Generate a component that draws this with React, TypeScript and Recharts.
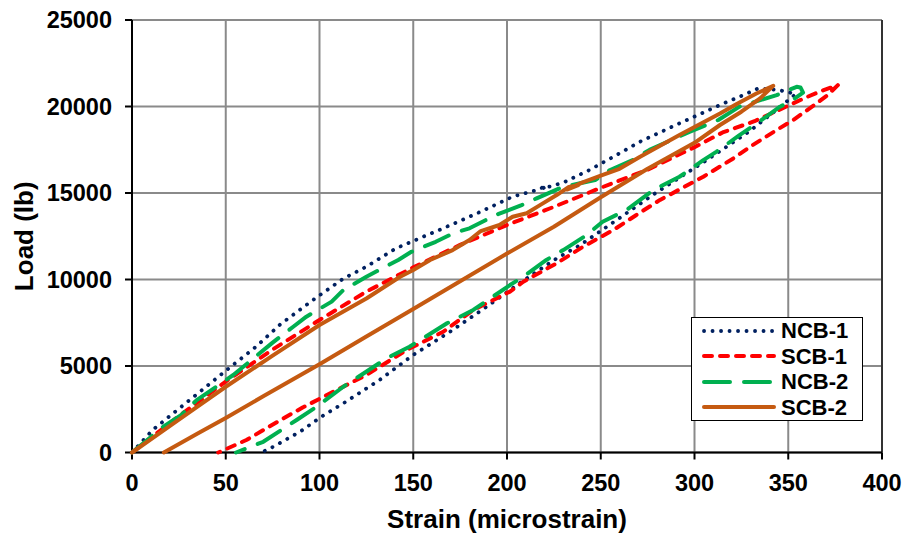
import {
  ScatterChart,
  Scatter,
  XAxis,
  YAxis,
  CartesianGrid,
  Legend,
  ReferenceLine,
} from "recharts";

// strain (microstrain), load (lb) - loading branch then unloading branch
const NCB1: [number, number][] = [
  [0, 0], [11, 1300], [22, 2270], [33, 3230], [52, 4900], [66, 6100], [79, 7400],
  [97.6, 8900], [112.7, 10050], [125, 10740], [140, 11750], [145, 12000], [166, 12960],
  [186, 13920], [203, 14790], [216, 15170], [221, 15420], [219, 15250], [230, 15600],
  [244, 16330], [258.5, 17200], [271, 17970], [292, 19030], [313.6, 20090], [326, 20660],
  [334, 21050], [345, 20950], [354, 20720],
  [347, 20090], [329, 18540], [306.5, 16900], [279, 14980], [258.5, 13440], [239, 11990],
  [226.5, 11220], [210.5, 10070], [188, 8340], [169.6, 6980], [150, 5640], [132, 4190],
  [112.7, 2840], [101, 2070], [89.6, 1200], [75.4, 335], [69, 0],
];

const SCB1: [number, number][] = [
  [0, 0], [25, 2100], [50, 4100], [75, 5950], [100, 7660], [125, 9300], [150, 10700],
  [175, 12000], [200, 13150], [225, 14200], [250, 15300], [275, 16350], [300, 17650],
  [315, 18500], [332, 19150], [350, 20050], [360, 20550], [368, 20910], [376.5, 21240],
  [371, 20660], [364, 20090], [352.7, 19220], [343.8, 18640], [331, 17770], [320.7, 17000],
  [304.7, 15940], [281.6, 14600], [269, 13730], [256.7, 12860], [240.7, 11900],
  [226.5, 10940], [208.7, 9870], [201.6, 9300], [182, 8240], [166, 6980], [146.5, 5925],
  [125, 4480], [107.4, 3515], [91, 2600], [78, 1800], [61, 720], [46, 0],
];

const NCB2: [number, number][] = [
  [0, 0], [16.7, 1490], [26.3, 2170], [34.5, 3030], [45, 3800], [54, 4480], [74.5, 6310],
  [86, 7270], [93, 7850], [106.5, 8720], [112.7, 9390], [125, 10160], [142, 11130],
  [149, 11600], [162, 12180], [171.4, 12670], [180, 12960], [194, 13730], [207.8, 14300],
  [215.8, 14690], [230, 15360], [239, 15560], [247, 15750], [255, 16330], [267, 16900],
  [276, 17490], [289.6, 18160], [297.6, 18540], [312.7, 19220], [324, 19990],
  [343.8, 20660], [354.5, 21140], [356.5, 21100],
  [357.9, 20800], [351, 20280], [345.6, 19990], [332, 18930], [324, 18350], [311.8, 17390],
  [304.7, 16900], [292, 15940], [278, 15170], [263.8, 14020], [251, 13340], [242.5, 12570],
  [230, 11700], [221, 11130], [208.7, 10160], [201.6, 9680], [182, 8240], [168, 7470],
  [148, 6115], [135.8, 5445], [112.7, 3800], [98.5, 2650], [87.8, 1880], [70, 620],
  [55.5, 0],
];

const SCB2: [number, number][] = [
  [0, 0], [25, 1900], [50, 3800], [75, 5600], [100, 7370], [125, 8900], [143, 10160],
  [150, 10550], [159, 11130], [171, 11700], [180, 12280], [186, 12800], [196, 13150],
  [203, 13630], [210.5, 13830], [217.6, 14300], [226.5, 14880], [233, 15350],
  [238, 15450], [232, 15200], [240, 15600], [250, 16000], [260, 16400], [271, 17100],
  [292, 18350], [313.6, 19600], [322.5, 20150], [333, 20750], [342, 21190],
  [335, 20470], [325, 19700], [313.6, 18930], [300, 17900], [275, 16400], [250, 14750],
  [225, 13050], [200, 11500], [175, 9900], [150, 8300], [125, 6700], [100, 5100],
  [70, 3250], [50, 2000], [35, 1100], [17, 0],
];

const X_TICKS = [0, 50, 100, 150, 200, 250, 300, 350, 400];
const Y_TICKS = [0, 5000, 10000, 15000, 20000, 25000];

const FONT = "'Liberation Sans', Arial, sans-serif";

const SERIES = [
  { name: "NCB-1", data: NCB1, color: "#002060", dash: "0.1 8.4", width: 3.8 },
  { name: "SCB-1", data: SCB1, color: "#FF0000", dash: "8 8", width: 4 },
  { name: "NCB-2", data: NCB2, color: "#00B050", dash: "26 14", width: 4 },
  { name: "SCB-2", data: SCB2, color: "#C55A11", dash: undefined, width: 4 },
];

const toPoints = (arr: [number, number][]) => arr.map(([x, y]) => ({ x, y }));

const renderLegend = () => (
  <div
    style={{
      border: "1.5px solid #000",
      background: "#fff",
      width: 172,
      height: 104,
      boxSizing: "border-box",
      padding: "0 0 0 10px",
    }}
  >
    {SERIES.map((s) => (
      <div key={s.name} style={{ display: "flex", alignItems: "center", height: 25.5 }}>
        <svg width={76} height={10} style={{ display: "block", flex: "none" }}>
          <line
            x1={2}
            y1={5}
            x2={72}
            y2={5}
            stroke={s.color}
            strokeWidth={s.width}
            strokeDasharray={s.dash}
            strokeLinecap="round"
          />
        </svg>
        <span
          style={{
            fontFamily: FONT,
            fontWeight: 700,
            fontSize: 22,
            color: "#000",
            marginLeft: 3,
            lineHeight: "25px",
            whiteSpace: "nowrap",
          }}
        >
          {s.name}
        </span>
      </div>
    ))}
  </div>
);

const YTitle = (props: any) => {
  const vb = props.viewBox || { x: 0, y: 20, height: 432 };
  const cx = vb.x + 24;
  const cy = vb.y + vb.height / 2;
  return (
    <text
      x={cx}
      y={cy}
      transform={`rotate(-90, ${cx}, ${cy})`}
      textAnchor="middle"
      dominantBaseline="central"
      fontFamily={FONT}
      fontWeight={700}
      fontSize={26}
      fill="#000"
    >
      Load (lb)
    </text>
  );
};

const tickStyle = { fill: "#000", fontSize: 23.5, fontWeight: 700, fontFamily: FONT };

const App = () => {
  return (
    <div style={{ position: "absolute", left: 0, top: 0, background: "#fff" }}>
      <ScatterChart width={905} height={533} margin={{ top: 20, right: 23, bottom: 0, left: 0 }}>
        <CartesianGrid stroke="#8a8a8a" strokeWidth={2} />
        <XAxis
          dataKey="x"
          type="number"
          domain={[0, 400]}
          ticks={X_TICKS}
          interval={0}
          height={80.5}
          tick={tickStyle}
          tickSize={7}
          tickMargin={15}
          axisLine={{ stroke: "#000", strokeWidth: 2 }}
          tickLine={{ stroke: "#000", strokeWidth: 2 }}
          label={{
            value: "Strain (microstrain)",
            position: "insideBottom",
            offset: 5,
            fill: "#000",
            fontSize: 26,
            fontWeight: 700,
            fontFamily: FONT,
          }}
        />
        <YAxis
          dataKey="y"
          type="number"
          domain={[0, 25000]}
          ticks={Y_TICKS}
          interval={0}
          width={132}
          tick={tickStyle}
          tickSize={7}
          tickMargin={13}
          axisLine={{ stroke: "#000", strokeWidth: 2 }}
          tickLine={{ stroke: "#000", strokeWidth: 2 }}
          label={{ content: YTitle }}
        />
        <ReferenceLine x={400} stroke="#333" strokeWidth={2} ifOverflow="extendDomain" />
        <Legend
          layout="vertical"
          align="center"
          verticalAlign="middle"
          wrapperStyle={{ left: 691, top: 317, width: 172, height: 104 }}
          content={renderLegend}
        />
        {SERIES.map((s) => (
          <Scatter
            key={s.name}
            name={s.name}
            data={toPoints(s.data)}
            fill={s.color}
            line={{
              stroke: s.color,
              strokeWidth: s.width,
              strokeDasharray: s.dash,
              strokeLinecap: "round",
              strokeLinejoin: "round",
            }}
            shape={() => null}
            legendType="line"
            isAnimationActive={false}
          />
        ))}
      </ScatterChart>
    </div>
  );
};

export default App;
